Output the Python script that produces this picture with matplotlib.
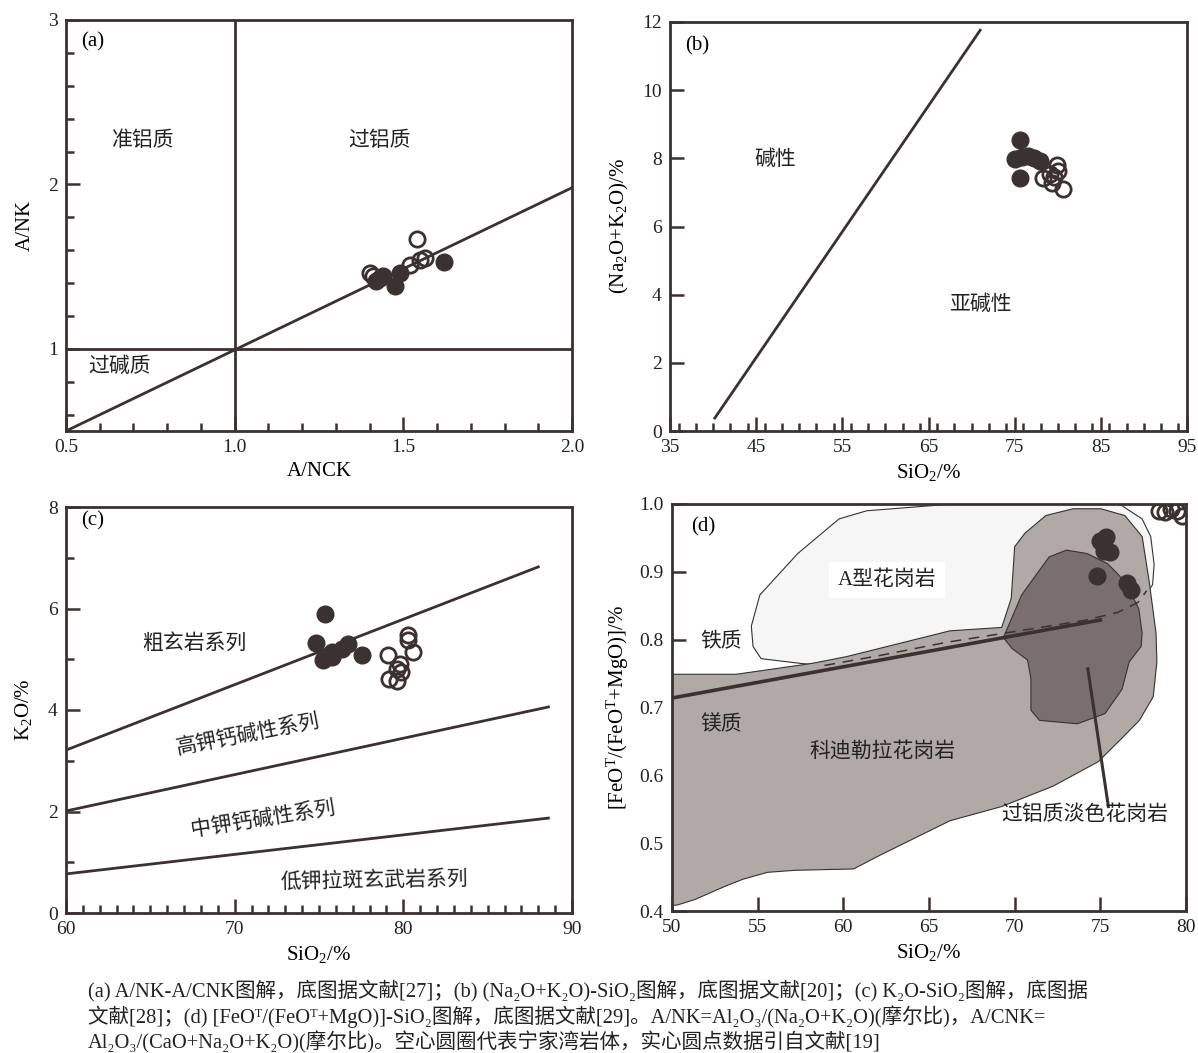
import matplotlib
matplotlib.use("Agg")
import matplotlib.pyplot as plt
from matplotlib.patches import Polygon
from matplotlib.ticker import MultipleLocator

plt.rcParams['font.family'] = ['Liberation Serif', 'Noto Sans CJK SC', 'DejaVu Serif']
plt.rcParams['mathtext.fontset'] = 'custom'
plt.rcParams['mathtext.rm'] = 'Liberation Serif'
plt.rcParams['mathtext.it'] = 'Liberation Serif:italic'

INK = '#3a3130'

# ---- (a) A/NK vs A/CNK ----
a_open_x = [1.40, 1.41, 1.52, 1.55, 1.565, 1.54]
a_open_y = [1.46, 1.44, 1.51, 1.54, 1.55, 1.67]
a_fill_x = [1.42, 1.44, 1.475, 1.49, 1.43, 1.62]
a_fill_y = [1.41, 1.44, 1.38, 1.46, 1.43, 1.53]

# ---- (b) Na2O+K2O vs SiO2 ----
b_line_x = [40.2, 71.0]
b_line_y = [0.38, 11.76]
b_fill_x = [75.6, 75.0, 75.9, 76.6, 77.3, 77.9, 75.6]
b_fill_y = [8.53, 7.97, 8.05, 8.08, 8.02, 7.92, 7.42]
b_open_x = [79.9, 80.0, 79.6, 78.3, 79.3, 80.6, 79.1]
b_open_y = [7.80, 7.62, 7.45, 7.42, 7.27, 7.10, 7.55]

# ---- (c) K2O vs SiO2 ----
c_bounds = {
    'shoshonite': ([60, 88.0], [3.21, 6.82]),
    'high_k': ([60, 88.6], [2.01, 4.06]),
    'low_k': ([60, 88.6], [0.77, 1.87]),
}
c_fill_x = [75.35, 74.8, 75.25, 75.8, 76.35, 76.7, 77.55, 75.75]
c_fill_y = [5.89, 5.33, 4.98, 5.15, 5.21, 5.30, 5.08, 5.05]
c_open_x = [80.25, 80.3, 80.55, 79.1, 79.8, 79.6, 79.85, 79.15, 79.6]
c_open_y = [5.47, 5.38, 5.15, 5.08, 4.91, 4.81, 4.75, 4.61, 4.57]

# ---- (d) FeOT/(FeOT+MgO) vs SiO2 ----
d_atype_x = [54.73, 54.63, 55.13, 57.34, 59.75, 61.36, 66.39, 68.0, 74.0, 76.23,
             77.44, 77.94, 78.14, 78.05, 77.64, 76.6, 74.0, 70.0, 66.0, 62.0,
             58.9, 57.5, 55.2]
d_atype_y = [0.790, 0.820, 0.866, 0.927, 0.978, 0.990, 1.000, 1.010, 1.010, 0.998,
             0.978, 0.952, 0.911, 0.881, 0.866, 0.845, 0.828, 0.812, 0.795, 0.775,
             0.762, 0.765, 0.772]
d_cord_x = [50.0, 53.76, 58.17, 60.19, 66.22, 69.24, 69.40, 69.80, 70.0, 70.6,
            71.82, 73.41, 75.03, 76.43, 77.44, 77.85, 78.25, 78.3, 78.09, 77.28,
            76.27, 74.87, 72.24, 69.24, 66.22, 64.21, 62.20, 60.6, 57.18, 55.57,
            54.16, 53.15, 51.34, 50.34, 50.0]
d_cord_y = [0.749, 0.749, 0.765, 0.775, 0.813, 0.818, 0.830, 0.861, 0.937, 0.957,
            0.983, 0.993, 0.993, 0.983, 0.952, 0.886, 0.810, 0.767, 0.716, 0.681,
            0.655, 0.620, 0.584, 0.554, 0.533, 0.508, 0.483, 0.462, 0.460, 0.457,
            0.447, 0.437, 0.417, 0.409, 0.408]
d_peral_x = [69.34, 70.41, 71.41, 72.01, 73.02, 74.22, 75.43, 76.43, 77.24, 77.44,
             77.38, 76.68, 76.27, 75.27, 73.66, 71.45, 70.95, 70.95, 70.75, 69.85]
d_peral_y = [0.803, 0.866, 0.901, 0.922, 0.932, 0.927, 0.912, 0.886, 0.846, 0.810,
             0.790, 0.767, 0.727, 0.691, 0.676, 0.681, 0.696, 0.742, 0.770, 0.787]
d_solid_x = [50.0, 75.0]
d_solid_y = [0.714, 0.829]
d_dash_x = [58.9, 62.0, 66.0, 70.0, 74.0, 76.0, 77.2, 77.7]
d_dash_y = [0.762, 0.776, 0.796, 0.812, 0.828, 0.840, 0.855, 0.872]
d_fill_x = [75.0, 75.35, 75.57, 75.2, 74.8, 76.56, 76.8]
d_fill_y = [0.945, 0.951, 0.929, 0.931, 0.894, 0.884, 0.873]
d_open_x = [78.4, 78.8, 79.1, 79.5, 79.75]
d_open_y = [0.990, 0.988, 0.992, 0.990, 0.983]

a_xticks = [0.5, 1.0, 1.5, 2.0]
a_xticklabels = ['0.5', '1.0', '1.5', '2.0']
d_yticks = [0.4, 0.5, 0.6, 0.7, 0.8, 0.9, 1.0]
d_yticklabels = ['0.4', '0.5', '0.6', '0.7', '0.8', '0.9', '1.0']

caption_lines = [
    "(a) A/NK-A/CNK图解，底图据文献[27]；(b) (Na₂O+K₂O)-SiO₂图解，底图据文献[20]；(c) K₂O-SiO₂图解，底图据",
    "文献[28]；(d) [FeOᵀ/(FeOᵀ+MgO)]-SiO₂图解，底图据文献[29]。A/NK=Al₂O₃/(Na₂O+K₂O)(摩尔比)，A/CNK=",
    "Al₂O₃/(CaO+Na₂O+K₂O)(摩尔比)。空心圆圈代表宁家湾岩体，实心圆点数据引自文献[19]",
]

W, H = 1198, 1053
fig = plt.figure(figsize=(W / 100, H / 100), dpi=100)


def add_ax(left, top, right, bottom):
    return fig.add_axes([left / W, 1 - bottom / H, (right - left) / W, (bottom - top) / H])


def style(ax):
    for s in ax.spines.values():
        s.set_linewidth(2.0)
        s.set_color(INK)
    ax.tick_params(which='both', direction='in', top=False, right=False,
                   color=INK, width=1.8, labelsize=14, labelcolor='#222222')
    ax.tick_params(which='major', length=10, pad=6)
    ax.tick_params(which='minor', length=6)


def pts(ax, fx, fy, ox, oy, ms_f=12, ms_o=11):
    ax.plot(fx, fy, 'o', ms=ms_f, mfc=INK, mec=INK, zorder=5)
    ax.plot(ox, oy, 'o', ms=ms_o, mfc='none', mec=INK, mew=2.0, zorder=6)


LBL = dict(fontsize=15, color='#222222')

# (a)
ax = add_ax(66, 20, 572, 431)
style(ax)
ax.set_xlim(0.5, 2.0)
ax.set_ylim(0.5, 3.0)
ax.set_xticks(a_xticks)
ax.set_xticklabels(a_xticklabels)
ax.xaxis.set_minor_locator(MultipleLocator(0.1))
ax.set_yticks([1, 2, 3])
ax.yaxis.set_minor_locator(MultipleLocator(0.2))
ax.plot([1.0, 1.0], [0.5, 3.0], color=INK, lw=2)
ax.plot([0.5, 2.0], [1.0, 1.0], color=INK, lw=2)
ax.plot([0.5, 2.0], [0.5, 1.98], color=INK, lw=2)
pts(ax, a_fill_x, a_fill_y, a_open_x, a_open_y)
ax.text(0.58, 2.87, '(a)', fontsize=15, ha='center', va='center')
ax.text(0.73, 2.26, '准铝质', ha='center', va='center', **LBL)
ax.text(1.43, 2.26, '过铝质', ha='center', va='center', **LBL)
ax.text(0.66, 0.89, '过碱质', ha='center', va='center', **LBL)
ax.set_xlabel('A/NCK', fontsize=15, labelpad=4)
ax.set_ylabel('A/NK', fontsize=15, labelpad=9)

# (b)
ax = add_ax(670, 22, 1187, 431)
style(ax)
ax.set_xlim(35, 95)
ax.set_ylim(0, 12)
ax.set_xticks([35, 45, 55, 65, 75, 85, 95])
ax.xaxis.set_minor_locator(MultipleLocator(2))
ax.set_yticks([0, 2, 4, 6, 8, 10, 12])
ax.plot(b_line_x, b_line_y, color=INK, lw=2)
pts(ax, b_fill_x, b_fill_y, b_open_x, b_open_y)
ax.text(38.1, 11.3, '(b)', fontsize=15, ha='center', va='center')
ax.text(47.2, 7.95, '碱性', ha='center', va='center', **LBL)
ax.text(71.0, 3.7, '亚碱性', ha='center', va='center', **LBL)
ax.set_xlabel('SiO$_2$/%', fontsize=15, labelpad=4)
ax.set_ylabel('(Na$_2$O+K$_2$O)/%', fontsize=15, labelpad=8)

# (c)
ax = add_ax(66, 507, 572, 913)
style(ax)
ax.set_xlim(60, 90)
ax.set_ylim(0, 8)
ax.set_xticks([60, 70, 80, 90])
ax.xaxis.set_minor_locator(MultipleLocator(1))
ax.set_yticks([0, 2, 4, 6, 8])
ax.yaxis.set_minor_locator(MultipleLocator(1))
for bx, by in c_bounds.values():
    ax.plot(bx, by, color=INK, lw=2)
pts(ax, c_fill_x, c_fill_y, c_open_x, c_open_y)
ax.text(61.6, 7.72, '(c)', fontsize=15, ha='center', va='center')
ax.text(67.6, 5.3, '粗玄岩系列', ha='center', va='center', **LBL)
ax.text(70.8, 3.50, '高钾钙碱性系列', ha='center', va='center', rotation=11, **LBL)
ax.text(71.7, 1.85, '中钾钙碱性系列', ha='center', va='center', rotation=9, **LBL)
ax.text(78.3, 0.62, '低钾拉斑玄武岩系列', ha='center', va='center', rotation=1, **LBL)
ax.set_xlabel('SiO$_2$/%', fontsize=15, labelpad=4)
ax.set_ylabel('K$_2$O/%', fontsize=15, labelpad=10)

# (d)
ax = add_ax(672, 504, 1186, 911)
style(ax)
ax.set_xlim(50, 80)
ax.set_ylim(0.4, 1.0)
ax.set_xticks([50, 55, 60, 65, 70, 75, 80])
ax.set_yticks(d_yticks)
ax.set_yticklabels(d_yticklabels)
ax.add_patch(Polygon(list(zip(d_atype_x, d_atype_y)), closed=True,
                     fc='#f6f6f6', ec='#333333', lw=0.8, zorder=1))
ax.add_patch(Polygon(list(zip(d_cord_x, d_cord_y)), closed=True,
                     fc='#b1a9a6', ec='#333333', lw=0.8, zorder=2))
ax.add_patch(Polygon(list(zip(d_peral_x, d_peral_y)), closed=True,
                     fc='#7b6f6d', ec='#333333', lw=0.8, zorder=3))
ax.plot(d_solid_x, d_solid_y, color=INK, lw=2.6, zorder=4)
ax.plot(d_dash_x, d_dash_y, color=INK, lw=1.1, ls=(0, (7, 5)), zorder=4)
ax.plot([74.27, 75.47], [0.757, 0.554], color=INK, lw=2.2, zorder=4)
pts(ax, d_fill_x, d_fill_y, d_open_x, d_open_y)
ax.text(51.8, 0.966, '(d)', fontsize=15, ha='center', va='center', zorder=6)
ax.text(62.55, 0.888, 'A型花岗岩', ha='center', va='center', zorder=6,
        bbox=dict(fc='white', ec='none', pad=6), **LBL)
ax.text(52.9, 0.796, '铁质', ha='center', va='center', zorder=6, **LBL)
ax.text(52.9, 0.674, '镁质', ha='center', va='center', zorder=6, **LBL)
ax.text(62.3, 0.634, '科迪勒拉花岗岩', ha='center', va='center', zorder=6, **LBL)
ax.text(74.1, 0.541, '过铝质淡色花岗岩', ha='center', va='center', zorder=6, **LBL)
ax.set_xlabel('SiO$_2$/%', fontsize=15, labelpad=4)
ax.set_ylabel('[FeO$^{\\mathrm{T}}$/(FeO$^{\\mathrm{T}}$+MgO)]/%', fontsize=15, labelpad=6)

for i, line in enumerate(caption_lines):
    fig.text(88 / W, 1 - (991 + 25.5 * i) / H, line, fontsize=14.8,
             ha='left', va='center', color='#222222')

fig.savefig('out.png', dpi=100)
